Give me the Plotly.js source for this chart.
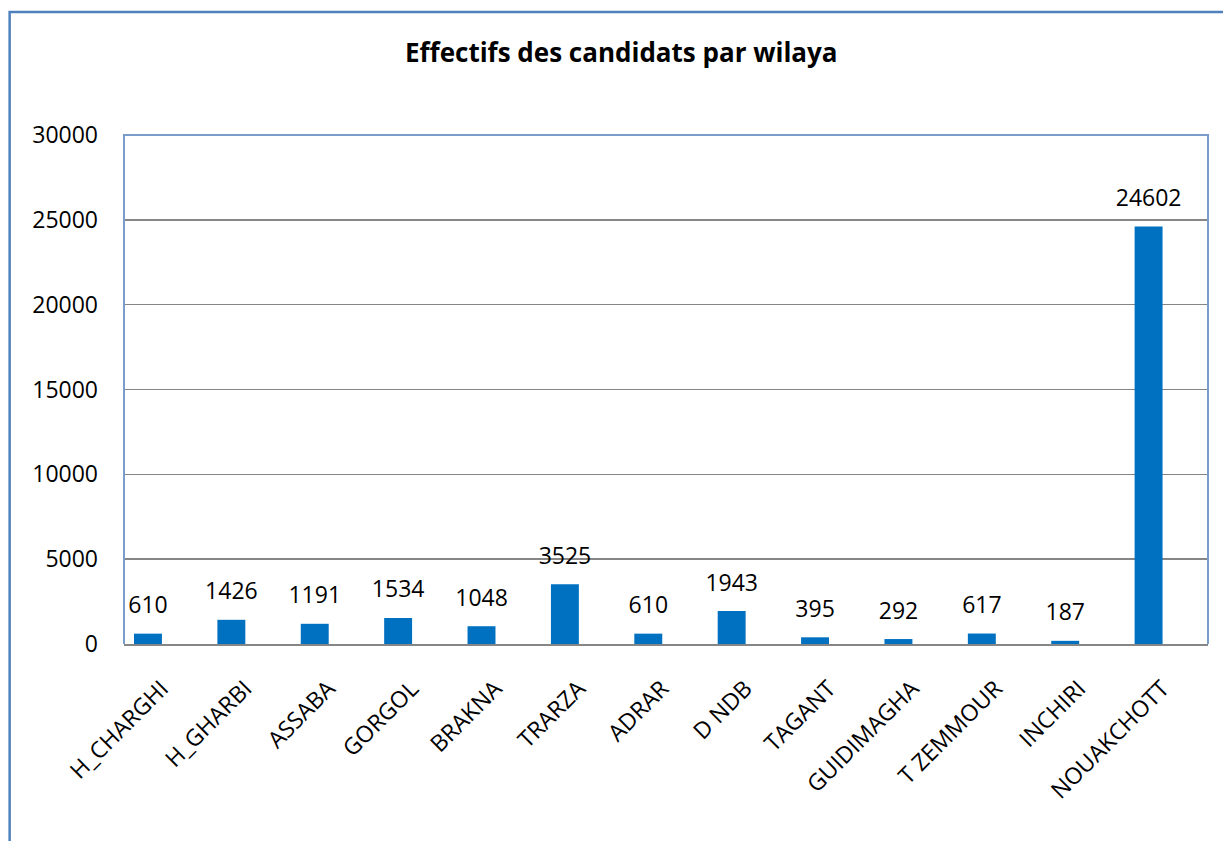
<!DOCTYPE html>
<html>
<head>
<meta charset="utf-8">
<script src="https://cdn.plot.ly/plotly-3.0.1.min.js"></script>
<style>
html,body{margin:0;padding:0;background:#fff;}
#chart{width:1223px;height:841px;}
</style>
</head>
<body>
<div id="chart"></div>
<script>
const categories = ["H_CHARGHI","H_GHARBI","ASSABA","GORGOL","BRAKNA","TRARZA","ADRAR","D NDB","TAGANT","GUIDIMAGHA","T ZEMMOUR","INCHIRI","NOUAKCHOTT"];
const effectifs = [610,1426,1191,1534,1048,3525,610,1943,395,292,617,187,24602];
const yTicks = [0,5000,10000,15000,20000,25000,30000];

const FONT = "'Open Sans', Lato, 'Liberation Sans', sans-serif";

const bars = {
  type: "bar",
  x: categories,
  y: effectifs,
  offset: -0.38,
  width: 0.335,
  marker: {color: "#0070C0", line: {width: 0}},
  hoverinfo: "x+y"
};

// data labels, on an overlaid category axis shifted so labels sit over the (offset) bars
const labels = {
  type: "scatter",
  mode: "markers+text",
  x: categories,
  y: effectifs,
  xaxis: "x2",
  text: effectifs.map(String),
  textposition: "top center",
  marker: {size: 22, opacity: 0, color: "#fff"},
  textfont: {family: FONT, size: 23, color: "#000"},
  cliponaxis: false,
  hoverinfo: "skip"
};

const layout = {
  width: 1223, height: 841,
  margin: {l: 124, r: 15, t: 135, b: 197, pad: 0},
  paper_bgcolor: "#fff", plot_bgcolor: "#fff",
  showlegend: false,
  title: {text: "<b>Effectifs des candidats par wilaya</b>", font: {family: FONT, size: 26, color: "#000"}, x: 0.508, xanchor: "center", y: 0.937, yanchor: "middle"},
  xaxis: {
    type: "category",
    range: [-0.5, 12.5],
    tickangle: -45,
    tickfont: {family: FONT, size: 23, color: "#000"},
    showgrid: false,
    showline: true, linecolor: "#868686", linewidth: 2,
    ticks: "", ticklabelshift: -4, ticklabelstandoff: 20,
    fixedrange: true
  },
  xaxis2: {
    type: "category",
    overlaying: "x",
    range: [-0.288, 12.712],
    visible: false,
    fixedrange: true
  },
  yaxis: {
    range: [0, 30000],
    tickvals: yTicks,
    ticktext: yTicks.map(String),
    tickfont: {family: FONT, size: 23, color: "#000"},
    showgrid: true, gridcolor: "#868686", gridwidth: 1.5,
    zeroline: false,
    showline: false,
    ticks: "", ticklabelstandoff: 25,
    fixedrange: true
  },
  shapes: [
    {type: "rect", xref: "paper", yref: "paper", x0: -0.1055, x1: 1.02, y0: -0.9, y1: 1.2417,
     line: {color: "#4F81BD", width: 2.5}, fillcolor: "rgba(0,0,0,0)", layer: "below"},
    {type: "path", xref: "paper", yref: "paper", path: "M0,0 L0,1 L1,1 L1,0",
     line: {color: "#7A9CCB", width: 2}, layer: "above"}
  ]
};

Plotly.newPlot("chart", [bars, labels], layout, {displayModeBar: false, staticPlot: true});
</script>
</body>
</html>
